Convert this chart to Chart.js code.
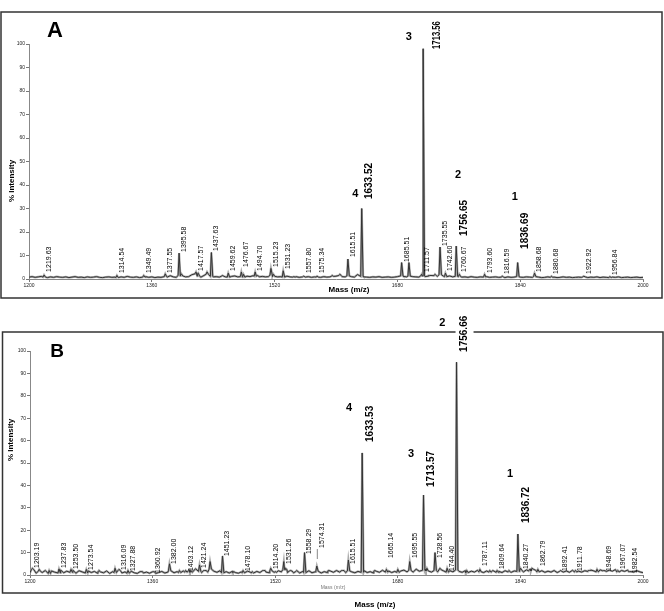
<!DOCTYPE html>
<html><head><meta charset="utf-8">
<script src="https://cdn.jsdelivr.net/npm/chart.js@4.4.1/dist/chart.umd.min.js"></script>
<style>
html,body{margin:0;padding:0;background:#fff;width:664px;height:611px;overflow:hidden}
#wa{position:absolute;left:0;top:0;width:664px;height:305px}
#wb{position:absolute;left:0;top:305px;width:664px;height:306px}
</style></head><body>
<div id="wa"><canvas id="ca" width="664" height="305"></canvas></div>
<div id="wb"><canvas id="cb" width="664" height="306"></canvas></div>
<script>
// ---------- data ----------
const massTicks = [1200, 1360, 1520, 1680, 1840, 2000];
const intensityTicks = [0, 10, 20, 30, 40, 50, 60, 70, 80, 90, 100];
const massStart = 1200, massStep = 4;

// baseline noise of spectrum A, sampled every 4 m/z from 1200 to 2000
const baselineA = [
0.8,1.0,0.7,0.9,1.1,0.8,0.6,0.9,0.7,1.0,0.8,0.7,0.9,0.6,0.8,1.0,0.7,0.8,0.6,0.9,
0.7,0.8,1.0,0.7,0.6,0.8,0.9,0.7,0.8,0.6,0.9,0.7,1.1,0.8,0.7,0.9,0.6,0.8,1.0,0.7,
0.9,0.6,0.8,0.7,1.0,0.8,1.4,0.9,0.7,1.6,1.3,0.9,1.0,1.8,2.2,1.2,0.8,1.5,2.0,1.1,
0.9,1.0,0.8,1.2,0.9,0.8,1.1,1.3,0.9,1.0,0.8,1.2,1.0,1.4,1.2,0.9,1.1,0.9,1.0,1.6,
1.1,0.9,1.0,0.8,1.2,0.9,0.8,1.0,0.7,0.9,0.8,1.0,0.7,0.9,0.8,0.7,1.0,0.8,0.9,1.1,
1.2,1.5,1.0,0.9,1.3,1.0,0.8,1.9,1.1,0.9,0.8,0.7,0.9,0.8,1.0,0.7,0.8,0.9,0.7,0.8,
1.0,1.3,1.1,0.9,1.2,1.0,0.9,0.8,1.3,1.0,1.2,1.5,1.4,1.1,1.8,1.2,1.0,1.3,0.9,1.1,
1.0,0.8,0.9,0.7,1.0,0.8,0.7,0.9,0.8,1.0,0.7,0.8,0.9,0.7,0.8,0.6,0.9,0.7,0.8,1.0,
0.8,0.7,0.9,0.8,0.7,1.0,0.8,0.6,0.7,0.9,0.7,0.8,0.6,0.7,0.9,0.7,0.8,0.6,0.7,0.8,
0.7,0.9,0.6,0.8,0.7,0.9,0.6,0.8,0.7,0.6,0.8,0.7,0.9,0.6,0.7,0.8,0.6,0.7,0.8,0.6,
0.7];

// baseline noise of spectrum B, sampled every 4 m/z from 1200 to 2000
const baselineB = [
1.0,2.4,0.8,1.6,1.1,2.0,0.7,1.8,1.3,0.9,2.2,1.0,1.7,1.2,2.1,0.8,1.9,1.4,0.9,1.8,
1.1,1.6,0.8,1.4,1.0,1.8,0.7,1.5,1.1,2.0,0.9,1.4,0.8,1.7,1.0,0.7,1.5,0.9,1.3,0.8,
1.4,0.7,1.1,1.6,0.9,1.3,1.9,1.0,1.5,1.1,1.8,1.3,2.2,1.2,2.8,1.6,1.1,2.0,1.3,2.6,
1.7,1.2,1.9,1.0,1.5,0.9,1.6,1.1,0.8,1.4,1.0,1.7,1.2,0.9,1.6,1.1,2.0,1.3,1.0,1.8,
1.2,1.9,1.4,2.4,1.1,1.8,1.0,1.5,0.9,1.6,1.1,1.9,1.0,1.4,1.7,0.9,1.5,1.1,1.8,1.2,
2.0,1.3,2.5,1.1,1.8,1.4,1.0,1.6,1.2,1.9,1.1,1.5,0.9,1.7,1.2,2.1,1.3,1.8,1.1,1.6,
1.2,1.8,2.2,1.4,2.0,1.3,2.6,1.7,2.1,2.5,1.8,1.3,2.0,1.4,2.3,1.8,1.3,1.9,1.4,2.2,
1.6,1.2,1.9,1.1,1.7,1.3,2.1,1.4,1.1,1.8,1.3,2.0,1.2,1.6,1.1,1.9,1.4,1.2,1.8,1.6,
2.0,1.4,2.3,1.8,2.6,2.1,1.4,1.9,1.2,1.7,1.3,2.0,1.1,1.6,1.3,1.8,1.2,2.1,1.4,1.7,
1.3,1.9,1.6,2.2,1.8,1.4,2.3,1.9,1.6,2.1,1.7,2.4,1.4,2.0,1.6,2.2,1.8,1.3,1.9,1.4,
1.0];

// peaks [m/z, % intensity]
const peaksA = [
[1219.63,1.7],[1314.54,1.5],[1349.49,1.5],[1377.55,2.2],[1395.58,11],[1398.5,2.2],
[1417.57,3],[1420.5,2.5],[1432,3],[1437.63,11.3],[1452,1.5],[1459.62,2.5],
[1476.67,3],[1479.5,2],[1494.70,3],[1497.5,1.5],[1515.23,4.5],[1518.5,2],
[1531.23,3.5],[1545,1],[1557.80,1.2],[1575.34,1.2],[1595,1.5],[1605,2],
[1615.51,8.5],[1633.52,30],[1685.51,7],[1695,7],[1711.57,2],[1713.56,98],
[1722,1.5],[1729,2],[1735.55,13.6],[1742.60,2.5],[1756.65,14],[1760.67,2],
[1793.60,2],[1816.59,1.2],[1836.69,7],[1858.68,2.5],[1880.68,1.2],[1922.92,1.2],[1956.84,1]
];
const peaksB = [
[1203.19,3],[1212,2.5],[1225,2],[1237.83,2.7],[1253.50,2.5],[1273.54,2.5],[1290,2],
[1311,3],[1316.09,2.5],[1327.88,2],[1345,1.5],[1360.92,1.5],[1382.00,5],[1395,2],
[1403.12,2],[1410,2],[1421.24,4.5],[1428,2],[1435,6],[1451.23,8.5],[1466,1.5],
[1478.10,2],[1490,1.5],[1505,2],[1514.20,3],[1520,1.5],[1531.26,6],[1533.5,3],
[1540,2],[1548,2],[1558.29,10],[1574.31,4],[1590,2],[1608,2],[1615.51,6.7],
[1633.53,54.5],[1650,2],[1665.14,2.5],[1680,2.5],[1695.55,6],[1713.57,35.7],
[1718,3],[1728.56,10],[1735,3],[1744.40,3],[1756.66,95],[1770,2],[1787.11,2.5],
[1800,2],[1809.64,2],[1825,2],[1836.72,18.3],[1840.27,3],[1852,2.5],[1855,3],
[1862.79,2.5],[1892.41,2],[1911.78,2],[1930,2],[1940,2.5],[1948.69,2],
[1967.07,2],[1982.54,1.5]
];

// peak annotations [text, intensity level the text starts from]
const minorLabelsA = [
['1219.63',2.6],['1314.54',2.1],['1349.49',2.1],['1377.55',2.1],['1395.58',11.1],
['1417.57',3],['1437.63',11.5],['1459.62',3],['1476.67',4.7],['1494.70',3],
['1515.23',4.7],['1531.23',3.8],['1557.80',2.1],['1575.34',2.1],['1615.51',8.9],
['1685.51',6.8],['1711.57',2.6],['1735.55',13.6],['1742.60',3],['1760.67',2.6],
['1793.60',2.1],['1816.59',1.7],['1858.68',2.6],['1880.68',1.7],['1922.92',1.7],['1956.84',1.3]
];
const majorLabelsA = [['1633.52',34],['1713.56',97.9],['1756.65',18.3],['1836.69',12.8]];
const tagsA = [['3',1695,103.2],['4',1625,36.2],['2',1759,44.3],['1',1833,34.9]];

const minorLabelsB = [
['1203.19',2.7],['1237.83',2.7],['1253.50',2.2],['1273.54',1.8],['1316.09',1.8],
['1327.88',1.3],['1360.92',0.5],['1382.00',4.5],['1403.12',1.3],['1421.24',2.7],
['1451.23',8],['1478.10',1.3],['1514.20',2.2],['1531.26',4.5],['1558.29',8.9],
['1574.31',11.6],['1615.51',4.5],['1665.14',7.1],['1695.55',7.1],['1728.56',7.1],
['1744.40',1.3],['1787.11',3.6],['1809.64',2.2],['1840.27',2.2],['1862.79',3.6],
['1892.41',1.3],['1911.78',1.3],['1948.69',1.3],['1967.07',2.2],['1982.54',0.4]
];
const majorLabelsB = [['1633.53',59.4],['1713.57',39.3],['1756.66',99.6],['1836.72',23.2]];
const tagsB = [['2',1738,112.5],['4',1616.4,74.6],['3',1697.4,54],['1',1826.6,45]];

// ---------- build ----------
const FONT = "'Liberation Sans', Arial, sans-serif";
function buildSeries(baseline, peaks) {
  const pts = [];
  const near = m => baseline[Math.max(0, Math.min(baseline.length - 1, Math.round((m - massStart) / massStep)))];
  baseline.forEach((v, i) => {
    const m = massStart + i * massStep;
    if (!peaks.some(p => Math.abs(p[0] - m) < 2)) pts.push({x: m, y: v});
  });
  peaks.forEach(([m, h]) => {
    const b = Math.min(near(m), h);
    pts.push({x: m - 1.3, y: b}, {x: m, y: h}, {x: m + 1.8, y: b});
  });
  pts.sort((a, b) => a.x - b.x);
  return pts;
}

function vText(ctx, text, x, yBottom, font, squeeze, bg) {
  ctx.save();
  ctx.font = font;
  const w = ctx.measureText(text).width * (squeeze || 1);
  if (bg) { ctx.fillStyle = '#fff'; ctx.fillRect(x - 9, yBottom - w - 2, 18, w + 3); }
  ctx.translate(x, yBottom);
  ctx.rotate(-Math.PI / 2);
  if (squeeze) ctx.scale(squeeze, 1);
  ctx.fillStyle = '#000';
  ctx.textAlign = 'left';
  ctx.textBaseline = 'middle';
  ctx.fillText(text, 0, 0);
  ctx.restore();
}

const decorPlugin = {
  id: 'decor',
  afterDraw(chart) {
    const c = chart.options.plugins.decor;
    const ctx = chart.ctx, xs = chart.scales.x, ys = chart.scales.y;
    ctx.save();
    ctx.strokeStyle = '#333'; ctx.lineWidth = 1.5;
    ctx.strokeRect(c.frame[0], c.frame[1], c.frame[2], c.frame[3]);
    ctx.fillStyle = '#000'; ctx.font = 'bold ' + c.letterSize + 'px ' + FONT;
    ctx.textAlign = 'center'; ctx.textBaseline = 'middle';
    ctx.fillText(c.letter, c.letterPos[0], c.letterPos[1]);
    ctx.save(); ctx.translate(c.yTitle[0], c.yTitle[1]); ctx.rotate(-Math.PI / 2);
    ctx.font = 'bold 8px ' + FONT; ctx.fillText('% Intensity', 0, 0); ctx.restore();
    c.xTitles.forEach(t => {
      ctx.font = t[2] + FONT; ctx.fillStyle = t[3];
      ctx.fillText('Mass (m/z)', t[0], t[1]);
    });
    c.minor.forEach(([txt, lvl]) => {
      const m = parseFloat(txt);
      const x = xs.getPixelForValue(m) + 5, yb = ys.getPixelForValue(lvl) - 1;
      vText(ctx, txt, x, yb, '7px ' + FONT);
      const tw = (c.tweaks || {})[txt];
      if (tw && tw.leader) {
        ctx.strokeStyle = '#888'; ctx.lineWidth = 1;
        ctx.beginPath(); ctx.moveTo(xs.getPixelForValue(m) + 0.5, yb + 1);
        ctx.lineTo(xs.getPixelForValue(m) + 0.5, yb + tw.leader); ctx.stroke();
      }
    });
    c.major.forEach(([txt, lvl]) => {
      const m = parseFloat(txt);
      const tw = (c.tweaks || {})[txt] || {};
      const x = xs.getPixelForValue(m) + (tw.dx || 8), yb = ys.getPixelForValue(lvl);
      vText(ctx, txt, x, yb, 'bold 10px ' + FONT, tw.squeeze, true);
    });
    ctx.fillStyle = '#000'; ctx.font = 'bold 11px ' + FONT;
    ctx.textAlign = 'center'; ctx.textBaseline = 'middle';
    c.tags.forEach(([t, m, v]) => ctx.fillText(t, xs.getPixelForValue(m), ys.getPixelForValue(v)));
    ctx.restore();
  }
};

function makeChart(id, baseline, peaks, pad, decor) {
  const series = buildSeries(baseline, peaks);
  return new Chart(document.getElementById(id), {
    type: 'scatter',
    data: { datasets: [
      { data: series, showLine: true, pointRadius: 0, borderColor: '#333', borderWidth: 1, tension: 0, order: 1 },
      { data: series, showLine: true, pointRadius: 0, borderColor: 'rgba(150,150,150,0.8)', borderWidth: 2.2, tension: 0, order: 2 }
    ]},
    options: {
      responsive: false, animation: false, events: [],
      layout: { padding: pad },
      plugins: { legend: {display: false}, tooltip: {enabled: false}, decor: decor },
      scales: {
        x: {
          type: 'linear', min: 1200, max: 2000,
          afterBuildTicks: s => { s.ticks = massTicks.map(v => ({value: v})); },
          afterFit: s => { s.height = 20; },
          ticks: { font: {size: 5, family: FONT}, color: '#222', padding: 1, maxRotation: 0, autoSkip: false,
                   callback: v => String(v) },
          grid: { drawOnChartArea: false, tickLength: 3, color: '#777' },
          border: { color: '#888', width: 1 }
        },
        y: {
          min: 0, max: 100,
          afterBuildTicks: s => { s.ticks = intensityTicks.map(v => ({value: v})); },
          afterFit: s => { s.width = 29; },
          ticks: { font: {size: 5, family: FONT}, color: '#222', padding: 1, autoSkip: false,
                   callback: v => String(v) },
          grid: { drawOnChartArea: false, tickLength: 3, color: '#777' },
          border: { color: '#888', width: 1 }
        }
      }
    },
    plugins: [decorPlugin]
  });
}

makeChart('ca', baselineA, peaksA, {left: 0, right: 21, top: 44, bottom: 6}, {
  frame: [1, 12, 661, 286], letter: 'A', letterSize: 22, letterPos: [55, 31],
  yTitle: [12, 181], xTitles: [[349, 290, 'bold 8px ', '#000']],
  minor: minorLabelsA, major: majorLabelsA, tags: tagsA,
  tweaks: {'1713.56': {dx: 14, squeeze: 0.77}}
});
makeChart('cb', baselineB, peaksB, {left: 1, right: 21, top: 46, bottom: 16}, {
  frame: [2.5, 27, 660.5, 261], letter: 'B', letterSize: 19, letterPos: [57, 46.5],
  yTitle: [11, 135], xTitles: [[333, 283, '5px ', '#777'], [375, 300, 'bold 8px ', '#000']],
  minor: minorLabelsB, major: majorLabelsB, tags: tagsB,
  tweaks: {'1574.31': {leader: 11}}
});
</script>
</body></html>
